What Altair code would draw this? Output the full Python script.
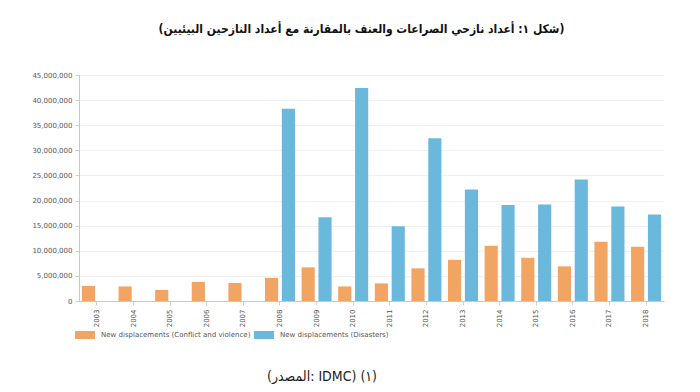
import altair as alt
import pandas as pd

years = [str(y) for y in range(2003, 2019)]
conflict = [3.0, 2.9, 2.2, 3.8, 3.6, 4.6, 6.7, 2.9, 3.5, 6.5, 8.2, 11.0, 8.6, 6.9, 11.8, 10.8]
disasters = [None, None, None, None, None, 38.3, 16.7, 42.4, 14.9, 32.4, 22.2, 19.1, 19.2, 24.2, 18.8, 17.2]
series_names = ["New displacements (Conflict and violence)", "New displacements (Disasters)"]
series_colors = ["#F2A462", "#6BB8DD"]
title_text = "(شكل ١: أعداد نازحي الصراعات والعنف بالمقارنة مع أعداد النازحين البيئيين)"
source_text = ["(المصدر: IDMC) (١)"]

rows = []
for i, y in enumerate(years):
    rows.append({"year": y, "series": series_names[0], "value": conflict[i] * 1e6})
    if disasters[i] is not None:
        rows.append({"year": y, "series": series_names[1], "value": disasters[i] * 1e6})
df = pd.DataFrame(rows)

W, H = 585, 226

bars = alt.Chart(df).mark_bar().encode(
    x=alt.X("year:N", sort=years, title=None,
            scale=alt.Scale(paddingInner=0.18, paddingOuter=0.08),
            axis=alt.Axis(labelAngle=270, labelFontSize=7, labelColor="#555",
                          labelFont="DejaVu Sans", domainColor="#c8c8c8",
                          tickColor="#d0d0d0", tickSize=4, labelPadding=4,
                          grid=False)),
    xOffset=alt.XOffset("series:N", sort=series_names,
                        scale=alt.Scale(paddingInner=0.22, domain=series_names)),
    y=alt.Y("value:Q", title=None,
            scale=alt.Scale(domain=[0, 45e6], nice=False),
            axis=alt.Axis(values=[i * 5e6 for i in range(10)], format=",d",
                          labelFontSize=7, labelColor="#555", labelFont="DejaVu Sans",
                          domainColor="#c8c8c8", tickColor="#d0d0d0", tickSize=4,
                          gridColor="#f0f0f0", labelPadding=3)),
    color=alt.Color("series:N", sort=series_names,
                    scale=alt.Scale(domain=series_names, range=series_colors),
                    legend=alt.Legend(orient="none", legendX=-4, legendY=250,
                                      direction="horizontal", title=None,
                                      symbolType="M-1,-0.4H1V0.4H-1Z", symbolSize=400,
                                      symbolStrokeWidth=0, symbolOpacity=1,
                                      labelFontSize=7, labelColor="#555",
                                      labelFont="DejaVu Sans", columnPadding=3,
                                      labelOffset=6, labelLimit=0)),
)

src = alt.Chart(pd.DataFrame({"t": source_text})).mark_text(
    font="DejaVu Sans Condensed", fontSize=14, color="#222", align="center", baseline="middle"
).encode(text="t:N", x=alt.value(243), y=alt.value(302))

chart = alt.layer(bars, src).properties(
    width=W, height=H,
    title=alt.TitleParams(title_text, font="DejaVu Sans Condensed", fontSize=12,
                          fontWeight="bold", color="#111", anchor="middle",
                          offset=35, dx=-10),
    autosize=alt.AutoSizeParams(type="none"),
    padding={"left": 71, "top": 67, "right": 28, "bottom": 83},
).configure_view(stroke=None).configure_axis(domainWidth=1)

chart.save("out.html", embed_options={"renderer": "svg", "actions": False})
